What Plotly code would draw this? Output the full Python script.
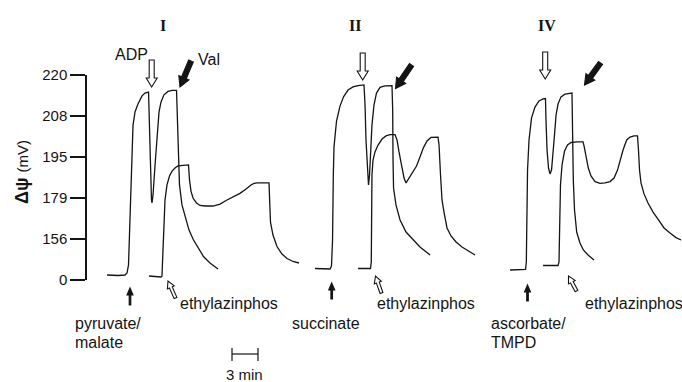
import numpy as np
import plotly.graph_objects as go

# ---------------- data (time in min, membrane potential in mV) ----------------
tick_mv = [0, 156, 179, 195, 208, 220]
tick_labels = [str(v) for v in tick_mv]

# Panel I : pyruvate/malate
pm_t = [0.81, 2.08, 2.88, 3.12, 3.29, 3.46, 3.63, 3.81, 4.04, 4.38, 4.85, 5.19, 5.60, 5.71, 5.83, 5.94, 6.00, 6.12,
        6.35, 6.58, 6.81, 7.04, 7.38, 7.85, 8.31, 8.83, 8.94, 9.02, 9.17, 9.46, 9.81, 10.27, 10.79, 11.31, 11.94,
        12.69, 13.62]
pm_v = [19.0, 17.1, 19.0, 26.6, 57.1, 166.7, 193.8, 205.1, 209.2, 211.5, 213.9, 214.7, 215.0, 203.6, 188.0, 177.9,
        176.2, 180.2, 191.9, 202.0, 209.2, 212.1, 214.2, 215.2, 215.5, 215.5, 206.7, 193.8, 184.1, 175.1, 168.3, 161.0,
        152.2, 121.8, 89.4, 64.7, 41.9]
pm_eth_t = [5.65, 6.35, 7.04, 7.15, 7.21, 7.33, 7.50, 7.73, 8.02, 8.31, 8.65, 9.00, 9.58, 10.21, 10.33, 10.50, 10.73,
            11.13, 11.54, 12.12, 13.04, 13.85, 14.65, 15.35, 16.15, 16.85, 17.42, 17.77, 18.12, 19.50, 19.56, 19.67,
            19.96, 20.42, 21.00, 21.58, 22.27, 22.96]
pm_eth_v = [15.2, 13.3, 11.4, 15.2, 57.1, 161.0, 177.9, 184.1, 187.6, 189.5, 190.7, 191.5, 191.7, 191.9, 186.0, 181.7,
            179.0, 176.2, 174.8, 174.5, 174.5, 175.6, 177.9, 179.4, 180.8, 182.5, 184.1, 184.7, 184.9, 184.9, 177.9,
            165.5, 158.2, 127.5, 98.9, 81.8, 70.4, 64.7]

# Panel II : succinate
suc_t = [24.81, 25.62, 26.54, 26.71, 26.83, 26.92, 27.00, 27.29, 27.69, 28.10, 28.62, 29.19, 29.77, 30.46, 30.58,
         30.69, 30.87, 30.98, 31.10, 31.21, 31.38, 31.61, 31.90, 32.31, 32.88, 33.69, 33.77, 33.81, 33.87, 34.15,
         34.62, 35.31, 36.15, 36.92, 38.08]
suc_v = [43.8, 41.9, 41.9, 53.3, 152.2, 188.0, 198.2, 206.4, 210.9, 213.6, 215.6, 216.5, 216.9, 217.1, 211.2, 200.4,
         188.0, 184.1, 188.0, 197.2, 205.1, 211.2, 214.7, 216.4, 216.8, 216.9, 209.8, 193.8, 182.9, 175.1, 166.7,
         159.9, 152.2, 125.6, 95.1]
suc_eth_t = [29.77, 31.21, 31.30, 31.35, 31.38, 31.50, 31.73, 32.08, 32.54, 33.00, 33.46, 34.04, 34.27, 34.50, 34.85,
             35.08, 35.31, 35.65, 36.00, 36.52, 36.92, 37.31, 37.73, 38.19, 39.00, 39.12, 39.29, 39.46, 39.69, 40.04,
             40.50, 41.08, 41.77, 42.46, 43.27]
suc_eth_v = [43.8, 43.8, 68.5, 166.7, 188.0, 193.8, 196.6, 198.8, 200.7, 201.7, 202.1, 202.1, 200.4, 196.6, 191.1,
             186.8, 184.9, 186.8, 188.9, 191.5, 195.0, 197.9, 200.1, 201.2, 201.3, 198.8, 188.0, 177.9, 171.1, 162.2,
             157.7, 144.6, 125.6, 110.3, 95.1]

# Panel IV : ascorbate/TMPD
asc_t = [47.31, 48.46, 49.10, 49.19, 49.27, 49.33, 49.50, 49.79, 50.19, 50.65, 51.12, 51.40, 51.46, 51.58, 51.75,
         51.92, 52.10, 52.27, 52.44, 52.62, 52.85, 53.19, 53.65, 54.46, 54.52, 54.61, 54.75, 55.00, 55.38, 55.77,
         56.31, 57.00]
asc_v = [38.1, 38.1, 40.0, 68.5, 166.7, 189.9, 200.4, 207.4, 210.6, 212.4, 213.0, 213.1, 206.7, 197.2, 190.7, 188.4,
         189.9, 195.6, 202.0, 208.3, 211.5, 213.6, 214.4, 214.7, 203.6, 186.0, 172.3, 159.9, 140.8, 114.2, 95.1, 76.1]
asc_eth_t = [51.12, 52.85, 52.96, 53.02, 53.13, 53.31, 53.60, 53.94, 54.35, 55.04, 55.73, 55.85, 56.08, 56.34, 56.65,
             57.12, 57.69, 58.27, 58.85, 59.31, 59.71, 60.00, 60.35, 60.77, 61.15, 61.62, 62.02, 62.13, 62.25, 62.42,
             62.77, 63.23, 63.81, 64.38, 65.08, 65.77, 66.46, 67.04]
asc_eth_v = [55.2, 55.2, 68.5, 161.0, 184.1, 191.9, 196.9, 198.8, 199.6, 199.8, 199.8, 198.5, 195.3, 190.7, 187.6,
             185.4, 184.7, 184.9, 185.4, 186.8, 189.9, 193.8, 197.2, 200.4, 201.3, 201.7, 201.7, 197.2, 189.9, 184.9,
             180.6, 176.2, 171.1, 167.2, 162.2, 159.4, 156.8, 152.2]

scale_bar_start = 15.23   # min
scale_bar_len = 3         # min

panel_titles = ["I", "II", "IV"]
substrates = [["pyruvate/", "malate"], ["succinate"], ["ascorbate/", "TMPD"]]
inhibitor = "ethylazinphos"

# ---------------- figure geometry ----------------
W, H = 682, 382
ML, MR, MT, MB = 87, 0, 75, 102
PW, PH = W - ML - MR, H - MT - MB
tick_pos = list(range(len(tick_mv)))


def ypos(v):
    return np.interp(v, tick_mv, tick_pos)


def P(px, py):
    """pixel -> paper coordinates"""
    return (px - ML) / PW, (MT + PH - py) / PH


INK = "#141414"
SANS = "Liberation Sans, Arial, Helvetica, sans-serif"
SERIF = "Liberation Serif, Times New Roman, serif"

fig = go.Figure()
series = [
    ("pyruvate/malate", pm_t, pm_v), ("pyruvate/malate + ethylazinphos", pm_eth_t, pm_eth_v),
    ("succinate", suc_t, suc_v), ("succinate + ethylazinphos", suc_eth_t, suc_eth_v),
    ("ascorbate/TMPD", asc_t, asc_v), ("ascorbate/TMPD + ethylazinphos", asc_eth_t, asc_eth_v),
]
for name, t, v in series:
    fig.add_trace(go.Scatter(x=t, y=ypos(v), mode="lines", name=name,
                             line=dict(color=INK, width=1.3), hoverinfo="skip"))


def arrow(tail, tip, sw, hw, hl, fill):
    tx, ty = tail
    hx, hy = tip
    dx, dy = hx - tx, hy - ty
    L = np.hypot(dx, dy)
    ux, uy = dx / L, dy / L
    nx, ny = -uy, ux
    bx, by = hx - ux * hl, hy - uy * hl
    pts = [(tx + nx * sw / 2, ty + ny * sw / 2), (bx + nx * sw / 2, by + ny * sw / 2),
           (bx + nx * hw / 2, by + ny * hw / 2), (hx, hy),
           (bx - nx * hw / 2, by - ny * hw / 2), (bx - nx * sw / 2, by - ny * sw / 2),
           (tx - nx * sw / 2, ty - ny * sw / 2)]
    pp = [P(*p) for p in pts]
    path = "M " + " L ".join(f"{x:.5f},{y:.5f}" for x, y in pp) + " Z"
    return dict(type="path", xref="paper", yref="paper", path=path,
                fillcolor=fill, line=dict(color=INK, width=1.1), layer="above")


shapes = []
# ADP (hollow, vertical)
for x, y0, y1 in [(151.7, 60, 87), (362.7, 53, 80), (545.2, 52, 79)]:
    shapes.append(arrow((x, y0), (x, y1), 5, 11, 9, "white"))
# Val (filled, diagonal)
for tail, tip in [((191, 61), (180, 87)), ((411.5, 65), (395.5, 88.5)), ((600.5, 63), (584.5, 85))]:
    shapes.append(arrow(tail, tip, 5, 11, 10, INK))
# substrate (small filled, up)
for x, y0, y1 in [(130, 305, 288), (331.7, 299, 283), (527.5, 301, 285)]:
    shapes.append(arrow((x, y0), (x, y1), 1.6, 6, 7, INK))
# ethylazinphos (small hollow, diagonal)
for tail, tip in [((175.5, 298), (168, 281)), ((381.5, 293), (375.5, 276)), ((576.5, 291), (568.5, 276))]:
    shapes.append(arrow(tail, tip, 3, 7.5, 7, "white"))

# 3-min scale bar
sb_y = (MT + PH - 354) / PH
sb_y0 = (MT + PH - 348) / PH
sb_y1 = (MT + PH - 361) / PH
x0, x1 = scale_bar_start, scale_bar_start + scale_bar_len
shapes.append(dict(type="line", xref="x", yref="paper", x0=x0, x1=x1, y0=sb_y, y1=sb_y,
                   line=dict(color=INK, width=1.2)))
for xx in (x0, x1):
    shapes.append(dict(type="line", xref="x", yref="paper", x0=xx, x1=xx, y0=sb_y0, y1=sb_y1,
                       line=dict(color=INK, width=1.2)))

ann = []


def text(s, px, py, size=16, font=SANS, xanchor="center", angle=0):
    x, y = P(px, py)
    ann.append(dict(text=s, x=x, y=y, xref="paper", yref="paper", showarrow=False,
                    xanchor=xanchor, yanchor="middle", textangle=angle,
                    font=dict(family=font, size=size, color=INK)))


for s, px in zip(panel_titles, [163, 355, 547]):
    text(f"<b>{s}</b>", px, 25, size=16, font=SERIF)
text("ADP", 131, 55)
text("Val", 209, 60)
for px in [178, 375, 583]:
    text(inhibitor, px, 303, xanchor="left")
for lines, px in zip(substrates, [73, 290, 489]):
    for i, s in enumerate(lines):
        text(s, px, 323 + 19 * i, xanchor="left")
text(f"{scale_bar_len} min", 244, 374, size=15)
text("<b>Δψ</b> <span style='font-size:15px'>(mV)</span>", 22, 172, size=18, angle=-90)

fig.update_layout(
    width=W, height=H, margin=dict(l=ML, r=MR, t=MT, b=MB, pad=0),
    paper_bgcolor="white", plot_bgcolor="white", showlegend=False,
    shapes=shapes, annotations=ann,
    xaxis=dict(range=[(0 - 13) / 8.667, (PW - 13) / 8.667], visible=False, fixedrange=True),
    yaxis=dict(range=[0, len(tick_mv) - 1], tickvals=tick_pos, ticktext=tick_labels,
               showline=True, linecolor=INK, linewidth=1.5, ticks="outside", ticklen=15,
               tickwidth=1.5, tickcolor=INK, showgrid=False, zeroline=False,
               tickfont=dict(family=SANS, size=15, color=INK), fixedrange=True),
)
fig.write_html("out.html")
